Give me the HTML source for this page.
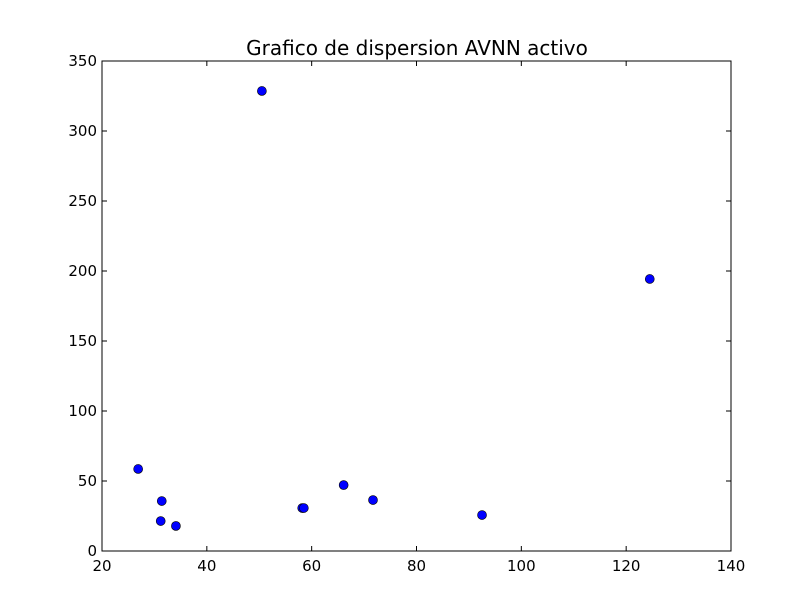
<!DOCTYPE html>
<html><head><meta charset="utf-8"><style>
html,body{margin:0;padding:0;background:#fff;}
svg{display:block;font-family:"DejaVu Sans","Liberation Sans",sans-serif;}
</style></head><body>
<svg id="chart" width="812" height="612">
<rect width="812" height="612" fill="#fff"/>
<text x="417" y="55" font-size="20" text-anchor="middle">Grafico de dispersion AVNN activo</text>
<g id="ticks"></g>
<g id="points"></g>
<rect x="102" y="61" width="629" height="490" fill="none" stroke="#000" stroke-width="1"/>
</svg>
<script>
const xValues = [50.5, 124.5, 26.9, 31.4, 31.2, 34.1, 58.2, 58.5, 66.1, 71.7, 92.5];
const yValues = [328.6, 194.3, 58.6, 35.7, 21.4, 17.9, 30.7, 30.7, 47.1, 36.4, 25.7];
const xTicks = [20, 40, 60, 80, 100, 120, 140];
const yTicks = [0, 50, 100, 150, 200, 250, 300, 350];

const L = 102, R = 731, T = 61, B = 551;
const xMin = 20, xMax = 140, yMin = 0, yMax = 350;
const sx = v => L + (v - xMin) / (xMax - xMin) * (R - L);
const sy = v => B - (v - yMin) / (yMax - yMin) * (B - T);
const NS = "http://www.w3.org/2000/svg";
const tg = document.getElementById("ticks");
const pg = document.getElementById("points");

function mk(tag, attrs, parent) {
  const e = document.createElementNS(NS, tag);
  for (const k in attrs) e.setAttribute(k, attrs[k]);
  parent.appendChild(e);
  return e;
}

xTicks.forEach(v => {
  const x = sx(v);
  const t1 = mk("line", {x1: x, x2: x, y1: B, y2: B - 5, stroke: "#000"}, tg);
  
  
  const t2 = mk("line", {x1: x, x2: x, y1: T, y2: T + 5, stroke: "#000"}, tg);
  
  
  const lb = mk("text", {x: x, y: B + 20, "font-size": 15, "text-anchor": "middle"}, tg);
  lb.textContent = v;
  
  
});

yTicks.forEach(v => {
  const y = sy(v);
  const t1 = mk("line", {x1: L, x2: L + 5, y1: y, y2: y, stroke: "#000"}, tg);
  
  
  const t2 = mk("line", {x1: R, x2: R - 5, y1: y, y2: y, stroke: "#000"}, tg);
  
  
  const lb = mk("text", {x: L - 5, y: y + 5, "font-size": 15, "text-anchor": "end"}, tg);
  lb.textContent = v;
  
  
});

xValues.forEach((v, i) => {
  const c = mk("circle", {cx: sx(v), cy: sy(yValues[i]), r: 4.5, fill: "#0000ff", stroke: "#000", "stroke-width": 0.6}, pg);
  
  
});
</script>
</body></html>
